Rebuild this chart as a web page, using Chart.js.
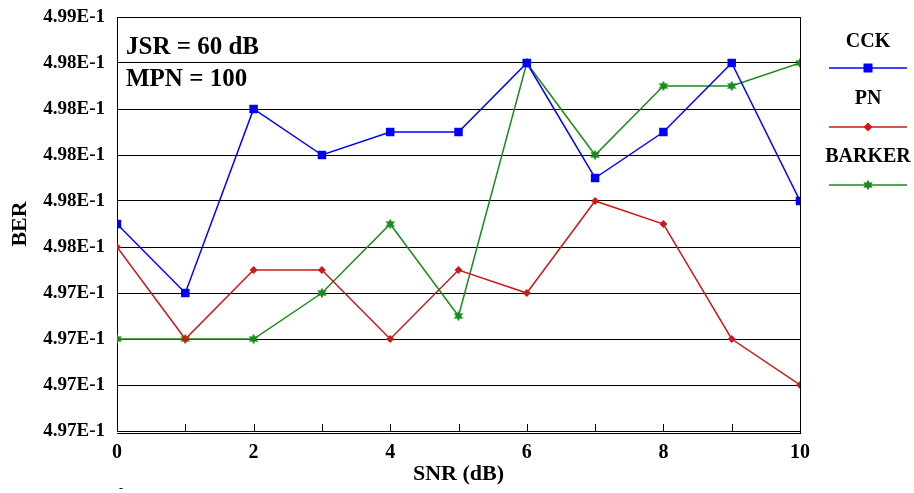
<!DOCTYPE html>
<html><head><meta charset="utf-8">
<script src="https://cdn.jsdelivr.net/npm/chart.js@4.4.0/dist/chart.umd.min.js"></script>
<style>html,body{margin:0;padding:0;background:#fff;}</style>
</head><body>
<canvas id="c" width="914" height="493"></canvas>
<script>
// ---- data ----
const snr = [0,1,2,3,4,5,6,7,8,9,10];
const cck    = [0.4977,0.4974,0.4982,0.4980,0.4981,0.4981,0.4984,0.4979,0.4981,0.4984,0.4978];
const pn     = [0.4976,0.4972,0.4975,0.4975,0.4972,0.4975,0.4974,0.4978,0.4977,0.4972,0.4970];
const barker = [0.4972,0.4972,0.4972,0.4974,0.4977,0.4973,0.4984,0.4980,0.4983,0.4983,0.4984];
const seriesNames = ['CCK','PN','BARKER'];
const yMin = 0.4968, yMax = 0.4986, yStep = 0.0002;
const notes = ['JSR = 60 dB','MPN = 100'];
const xTitle = 'SNR (dB)', yTitle = 'BER';

const FONT = '"Liberation Serif","Times New Roman",serif';
const C_BLUE = '#0000ff', C_RED = '#cc1a1a', C_GREEN = '#1a8c1a';

function makeStar(color){
  const cv = document.createElement('canvas');
  cv.width = 12; cv.height = 12;
  const g = cv.getContext('2d');
  g.fillStyle = color;
  g.beginPath();
  const cx = 6, cy = 6, R = 5.5, r = 2.8;
  for (let i = 0; i < 12; i++) {
    const a = -Math.PI/2 + i*Math.PI/6;
    const rad = (i % 2 === 0) ? R : r;
    const px = cx + rad*Math.cos(a), py = cy + rad*Math.sin(a);
    if (i === 0) g.moveTo(px, py); else g.lineTo(px, py);
  }
  g.closePath(); g.fill();
  return cv;
}
const starImg = makeStar(C_GREEN);

const toXY = arr => arr.map((v,i)=>({x:snr[i], y:v}));

const framePlugin = {
  id:'frame',
  afterDraw(chart){
    const ctx = chart.ctx, a = chart.chartArea, xs = chart.scales.x;
    ctx.save();
    ctx.strokeStyle = '#000'; ctx.lineWidth = 1;
    ctx.beginPath();
    ctx.moveTo(a.left, a.top + 0.5); ctx.lineTo(a.right, a.top + 0.5);
    ctx.moveTo(a.right + 0.5, a.top); ctx.lineTo(a.right + 0.5, a.bottom + 2);
    ctx.moveTo(a.left, a.bottom + 2.5); ctx.lineTo(a.right + 1, a.bottom + 2.5);
    for (let v = 0; v <= 10; v++) {
      const px = Math.round(xs.getPixelForValue(v)) + 0.5;
      ctx.moveTo(px, a.bottom); ctx.lineTo(px, a.bottom - 7);
    }
    ctx.stroke();

    // annotations
    ctx.fillStyle = '#000';
    ctx.font = 'bold 25px ' + FONT;
    ctx.textAlign = 'left'; ctx.textBaseline = 'middle';
    ctx.fillText(notes[0], a.left + 9, 48);
    ctx.fillText(notes[1], a.left + 9, 80);

    // legend
    const textY = [42, 99, 157], lineY = [68, 127, 185];
    const lx0 = 829, lx1 = 907, cx = 868;
    chart.data.datasets.forEach((ds, i) => {
      ctx.fillStyle = '#000';
      ctx.font = 'bold 20px ' + FONT;
      ctx.textAlign = 'center'; ctx.textBaseline = 'middle';
      ctx.fillText(ds.label, cx, textY[i]);
      ctx.strokeStyle = ds.borderColor; ctx.lineWidth = 1.5;
      ctx.beginPath(); ctx.moveTo(lx0, lineY[i]); ctx.lineTo(lx1, lineY[i]); ctx.stroke();
      ctx.fillStyle = ds.borderColor;
      if (ds.pointStyle === 'rect') {
        ctx.fillRect(cx - 4.5, lineY[i] - 4.5, 9, 9);
      } else if (ds.pointStyle === 'rectRot') {
        ctx.beginPath();
        ctx.moveTo(cx, lineY[i] - 4.5); ctx.lineTo(cx + 4.5, lineY[i]);
        ctx.lineTo(cx, lineY[i] + 4.5); ctx.lineTo(cx - 4.5, lineY[i]);
        ctx.closePath(); ctx.fill();
      } else {
        ctx.drawImage(starImg, cx - 6, lineY[i] - 6);
      }
    });

    ctx.fillStyle = '#000';
    ctx.font = '12px ' + FONT;
    ctx.textAlign = 'left'; ctx.textBaseline = 'middle';
    ctx.fillText('-', 119, 489);
    ctx.restore();
  }
};

new Chart(document.getElementById('c'), {
  type: 'line',
  data: {
    datasets: [
      {label: seriesNames[0], data: toXY(cck), borderColor: C_BLUE, backgroundColor: C_BLUE,
       borderWidth: 1.5, pointStyle: 'rect', pointRadius: 6, pointBorderWidth: 0, tension: 0},
      {label: seriesNames[1], data: toXY(pn), borderColor: C_RED, backgroundColor: C_RED,
       borderWidth: 1.5, pointStyle: 'rectRot', pointRadius: 4, pointBorderWidth: 0, tension: 0},
      {label: seriesNames[2], data: toXY(barker), borderColor: C_GREEN, backgroundColor: C_GREEN,
       borderWidth: 1.5, pointStyle: starImg, pointRadius: 6, tension: 0}
    ]
  },
  options: {
    responsive: false, animation: false,
    layout: {padding: {left: 0, top: 17, right: 114, bottom: 0}},
    plugins: {legend: {display: false}, tooltip: {enabled: false}},
    scales: {
      x: {
        type: 'linear', min: 0, max: 10,
        afterFit(s){ s.height = 62; },
        grid: {display: false},
        border: {display: true, color: '#000', width: 1},
        ticks: {stepSize: 1, autoSkip: false, maxRotation: 0, padding: 2, color: '#000',
                font: {family: FONT, size: 20, weight: 'bold'},
                callback: v => (v % 2 === 0 ? String(v) : '')},
        title: {display: true, text: xTitle, color: '#000',
                font: {family: FONT, size: 22, weight: 'bold'}, padding: {top: 0, bottom: 5}}
      },
      y: {
        type: 'linear', min: yMin, max: yMax,
        afterFit(s){ s.width = 117; s.paddingTop = 0; s.paddingBottom = 0; },
        grid: {color: '#000', lineWidth: 1, drawTicks: false},
        border: {display: true, color: '#000', width: 1},
        ticks: {stepSize: yStep, padding: 12, color: '#000',
                font: {family: FONT, size: 19, weight: 'bold'},
                callback: v => Number(v).toExponential(2).replace('e', 'E')},
        title: {display: true, text: yTitle, color: '#000',
                font: {family: FONT, size: 22, weight: 'bold'}, padding: {top: 7, bottom: 0}}
      }
    }
  },
  plugins: [framePlugin]
});
</script>
</body></html>
